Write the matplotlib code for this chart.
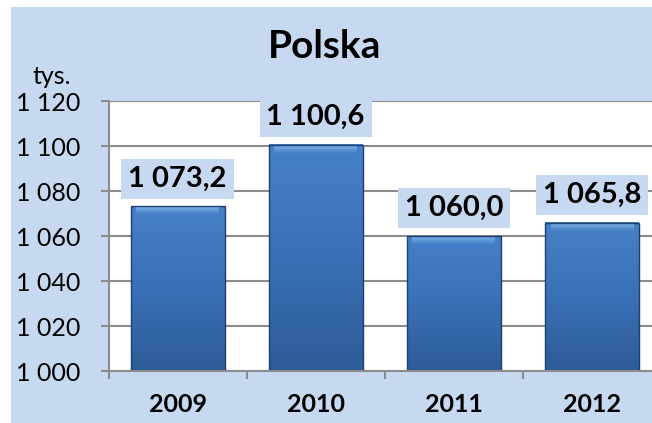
import matplotlib
matplotlib.use("Agg")
import matplotlib.pyplot as plt
import numpy as np
from matplotlib.patches import Rectangle
from matplotlib.colors import LinearSegmentedColormap

years = ["2009", "2010", "2011", "2012"]
values = [1073.2, 1100.6, 1060.0, 1065.8]
value_labels = ["1 073,2", "1 100,6", "1 060,0", "1 065,8"]
yticks = [1000, 1020, 1040, 1060, 1080, 1100, 1120]
ytick_labels = ["1 000", "1 020", "1 040", "1 060", "1 080", "1 100", "1 120"]
title = "Polska"
unit = "tys."

BG = "#C6D9F1"
GRID = "#8C8C8C"
FONT = ["Lato", "DejaVu Sans"]
plt.rcParams['font.family'] = FONT

W, H = 652, 423
fig = plt.figure(figsize=(W / 100, H / 100), dpi=100, facecolor="white")
fig.patches.append(Rectangle((11 / W, 0), 1, 1 - 7 / H, transform=fig.transFigure,
                             facecolor=BG, edgecolor="none", zorder=-5))

left, right, top, bottom = 108.5, 661, 101, 371
ax = fig.add_axes([left / W, 1 - bottom / H, (right - left) / W, (bottom - top) / H])
ax.set_facecolor("white")
ax.set_zorder(1)

x = np.arange(len(years))
bars = ax.bar(x, [v - 1000 for v in values], bottom=1000, width=0.68,
              color="#3C72B8", edgecolor="none", zorder=2)

# gradient / bevel look inside bars
cmap = LinearSegmentedColormap.from_list("b", ["#2D5B98", "#3A70B6", "#4680C6"])
grad = np.linspace(0, 1, 256).reshape(-1, 1)
hl = LinearSegmentedColormap.from_list("h", ["#4680C6", "#7FB5EC"])
for b in bars:
    x0, y0, w, h = b.get_x(), b.get_y(), b.get_width(), b.get_height()
    ax.imshow(grad, cmap=cmap, aspect="auto", extent=(x0, x0 + w, y0, y0 + h),
              origin="lower", zorder=2.1, interpolation="bicubic")
    ax.imshow(grad, cmap=hl, aspect="auto",
              extent=(x0 + 0.04, x0 + w - 0.04, y0 + h - 3.5, y0 + h),
              origin="lower", zorder=2.2, interpolation="bicubic")
    ax.add_patch(Rectangle((x0, y0), w, h, facecolor="none", edgecolor="#1F3F6E",
                           linewidth=1.0, zorder=2.3))

for xi, v, lab in zip(x, values, value_labels):
    ax.annotate(lab, (xi, v), xytext=(0, 20), textcoords="offset points",
                ha="center", va="center", fontsize=21, fontweight="bold",
                color="black", zorder=4,
                bbox=dict(boxstyle="square,pad=0.24", facecolor=BG, edgecolor="none"))

ax.set_xlim(-0.5, len(years) - 0.5)
ax.set_ylim(1000, 1120)
ax.set_yticks(yticks)
ax.set_yticklabels(ytick_labels, fontsize=18)
ax.set_xticks(x)
ax.set_xticklabels(years, fontsize=18, fontweight="bold")
ax.set_xticks(np.arange(-0.5, len(years), 1), minor=True)
ax.tick_params(axis="x", which="major", length=0, pad=16)
ax.tick_params(axis="x", which="minor", length=6, width=1.5, color=GRID)
ax.tick_params(axis="y", length=6, width=1.5, color=GRID, pad=14)
ax.yaxis.grid(True, color=GRID, linewidth=1.5, zorder=1)
ax.set_axisbelow(True)
for s in ["top", "right"]:
    ax.spines[s].set_visible(False)
for s in ["left", "bottom"]:
    ax.spines[s].set_color(GRID)
    ax.spines[s].set_linewidth(1.5)

fig.text(325 / W, 1 - 47 / H, title, ha="center", va="center", fontsize=28,
         fontweight="bold")
fig.text(52 / W, 1 - 76 / H, unit, ha="center", va="center", fontsize=18)

fig.savefig("out.png", dpi=100, facecolor="white")
